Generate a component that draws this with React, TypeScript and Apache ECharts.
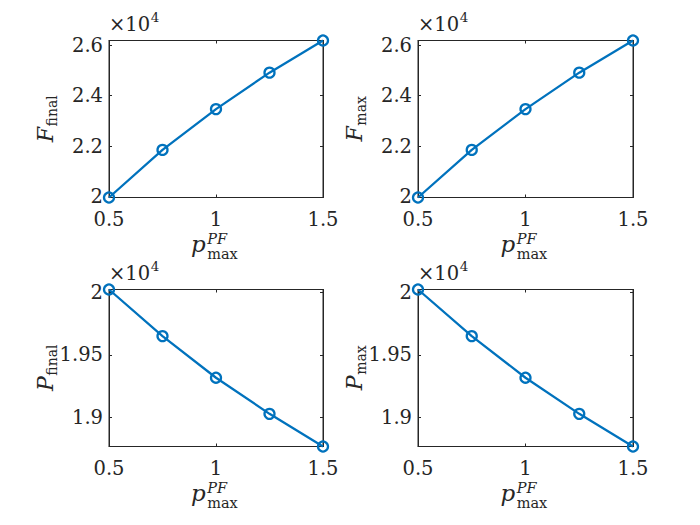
import React, { useEffect, useRef } from "react";
import * as echarts from "echarts";

// ---- data (values in raw units; axis shows them ×10^4) ----
const X_VALUES = [0.5, 0.75, 1, 1.25, 1.5];
const F_FINAL = [19980, 21860, 23470, 24910, 26180];
const F_MAX = [19980, 21860, 23470, 24910, 26180];
const P_FINAL = [20025, 19651, 19317, 19027, 18765];
const P_MAX = [20025, 19651, 19317, 19027, 18765];
const TOP_TICK_STEP = 2000;
const BOTTOM_TICK_STEP = 500;
const X_TICK_STEP = 0.5;
const Y_SCALE = 1e4;
const Y_SYMBOLS = ["F", "F", "P", "P"];
const Y_SUBS = ["final", "max", "final", "max"];

// ---- layout / style ----
const BLUE = "#0072BD";
const AX = "#262626";
const FONT = "DejaVu Serif";
const TICK_FS = 19.5;

const LAYOUT = [
  { left: 109, top: 40.5, width: 214, height: 157 },
  { left: 418, top: 40.5, width: 215, height: 157 },
  { left: 109, top: 289.5, width: 214, height: 157 },
  { left: 418, top: 289.5, width: 215, height: 157 },
];

const SERIES_VALUES = [F_FINAL, F_MAX, P_FINAL, P_MAX];
const STEPS = [TOP_TICK_STEP, TOP_TICK_STEP, BOTTOM_TICK_STEP, BOTTOM_TICK_STEP];

let measureCtx: CanvasRenderingContext2D | null = null;
function measure(text: string, size: number, italic = false) {
  if (!measureCtx) measureCtx = document.createElement("canvas").getContext("2d");
  if (!measureCtx) return text.length * size * 0.6;
  measureCtx.font = `${italic ? "italic " : ""}${size}px ${FONT}`;
  return measureCtx.measureText(text).width;
}

function txt(x: number, y: number, text: string, fontSize: number, italic = false) {
  return {
    type: "text",
    x,
    y,
    silent: true,
    style: {
      text,
      fontSize,
      fontFamily: FONT,
      fontStyle: italic ? "italic" : "normal",
      fill: AX,
      align: "left",
      textAlign: "left",
      verticalAlign: "middle",
      textVerticalAlign: "middle",
    },
  };
}

function buildOption() {
  const grid: any[] = [];
  const xAxis: any[] = [];
  const yAxis: any[] = [];
  const series: any[] = [];
  const graphic: any[] = [];

  LAYOUT.forEach((L, i) => {
    const vals = SERIES_VALUES[i];
    const step = STEPS[i];
    const ymin = Math.min(...vals);
    const ymax = Math.max(...vals);
    const xmin = Math.min(...X_VALUES);
    const xmax = Math.max(...X_VALUES);
    grid.push({
      left: L.left,
      top: L.top,
      width: L.width,
      height: L.height,
      show: true,
      borderColor: AX,
      borderWidth: 1,
      backgroundColor: "#fff",
      containLabel: false,
    });
    const tickCommon = { show: true, inside: true, length: 3, lineStyle: { color: AX, width: 1 } };
    const lineCommon = { show: true, onZero: false, lineStyle: { color: AX, width: 1 } };
    xAxis.push({
      type: "value",
      gridIndex: i,
      position: "bottom",
      min: xmin,
      max: xmax,
      interval: X_TICK_STEP,
      axisLine: lineCommon,
      axisTick: tickCommon,
      splitLine: { show: false },
      axisLabel: {
        color: AX,
        fontFamily: FONT,
        fontSize: TICK_FS,
        margin: 12,
        formatter: (v: number) => String(v),
      },
    });
    xAxis.push({
      type: "value",
      gridIndex: i,
      position: "top",
      min: xmin,
      max: xmax,
      interval: X_TICK_STEP,
      axisLine: lineCommon,
      axisTick: tickCommon,
      splitLine: { show: false },
      axisLabel: { show: false },
    });
    const yFmt = (v: number) => {
      const r = v / step;
      return Math.abs(r - Math.round(r)) < 1e-6 ? String(+(v / Y_SCALE).toFixed(4)) : "";
    };
    yAxis.push({
      type: "value",
      gridIndex: i,
      position: "left",
      min: ymin,
      max: ymax,
      splitNumber: 3,
      axisLine: lineCommon,
      axisTick: tickCommon,
      splitLine: { show: false },
      axisLabel: { color: AX, fontFamily: FONT, fontSize: TICK_FS, margin: 6, formatter: yFmt },
    });
    yAxis.push({
      type: "value",
      gridIndex: i,
      position: "right",
      min: ymin,
      max: ymax,
      splitNumber: 3,
      axisLine: lineCommon,
      axisTick: tickCommon,
      splitLine: { show: false },
      axisLabel: { show: false },
    });
    series.push({
      type: "line",
      xAxisIndex: 2 * i,
      yAxisIndex: 2 * i,
      data: X_VALUES.map((x, j) => [x, vals[j]]),
      symbol: "circle",
      symbolSize: 10,
      clip: false,
      lineStyle: { color: BLUE, width: 2.3 },
      itemStyle: { color: "rgba(255,255,255,0)", borderColor: BLUE, borderWidth: 2.3 },
      z: 5,
    });

    // ×10^4 multiplier
    const multW = measure("×10", 19.5);
    graphic.push(txt(L.left, L.top - 16, "×10", 19.5));
    graphic.push(txt(L.left + multW + 0.5, L.top - 23.5, "4", 13.5));

    // x label p^{PF}_{max}
    const cx = L.left + L.width / 2;
    const gb = L.top + L.height;
    const pW = measure("p", 23, true);
    graphic.push(txt(cx - 25, gb + 46, "p", 23, true));
    graphic.push({
      type: "text",
      x: cx - 25 + pW + 1.5,
      y: gb + 49,
      silent: true,
      style: {
        text: "{i|PF}\n{n|max}",
        fill: AX,
        align: "left",
        textAlign: "left",
        verticalAlign: "middle",
        textVerticalAlign: "middle",
        rich: {
          i: { fontSize: 14.5, fontFamily: FONT, fontStyle: "italic", lineHeight: 15, fill: AX },
          n: { fontSize: 14.5, fontFamily: FONT, fontStyle: "normal", lineHeight: 15, fill: AX },
        },
      },
    });

    // y label (rotated)
    const mainFs = 22;
    const subFs = 14;
    const mainW = measure(Y_SYMBOLS[i], mainFs, true);
    const subW = measure(Y_SUBS[i], subFs);
    const total = mainW + subW;
    graphic.push({
      type: "group",
      x: L.left - 56,
      y: L.top + L.height / 2 + total / 2,
      rotation: Math.PI / 2,
      children: [
        txt(0, -0.34 * mainFs, Y_SYMBOLS[i], mainFs, true),
        txt(mainW + 0.5, 3.5 - 0.34 * subFs, Y_SUBS[i], subFs),
      ],
    });
  });

  return {
    animation: false,
    backgroundColor: "#fff",
    grid,
    xAxis,
    yAxis,
    series,
    graphic,
  };
}

export default function App() {
  const ref = useRef<HTMLDivElement>(null);
  useEffect(() => {
    if (!ref.current) return;
    const chart = echarts.init(ref.current, undefined, { renderer: "svg" });
    chart.setOption(buildOption() as any);
    return () => chart.dispose();
  }, []);
  return (
    <div
      ref={ref}
      style={{ position: "fixed", left: 0, top: 0, width: 700, height: 525, background: "#fff" }}
    />
  );
}
